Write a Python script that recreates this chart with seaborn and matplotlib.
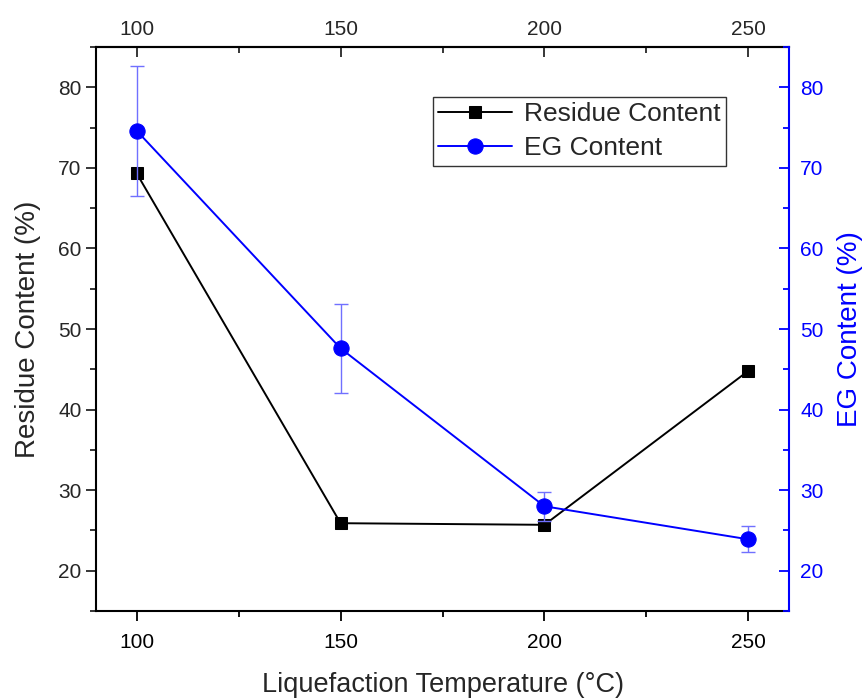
import matplotlib
matplotlib.use("Agg")
import matplotlib.pyplot as plt
import seaborn as sns
import pandas as pd
from matplotlib.ticker import MultipleLocator, FixedLocator

temperature = [100, 150, 200, 250]
residue = [69.3, 25.9, 25.7, 44.8]
eg = [74.6, 47.6, 28.0, 23.9]
eg_err = [8.1, 5.5, 1.8, 1.6]
x_major = [100, 150, 200, 250]
x_minor = [125, 175, 225]

sns.set_style("ticks")
plt.rcParams['font.family'] = ['Liberation Sans', 'DejaVu Sans']

df = pd.DataFrame({"T": temperature, "Residue": residue, "EG": eg, "err": eg_err})

fig = plt.figure(figsize=(8.63, 6.98), dpi=100)
ax = fig.add_axes([0.1112, 0.1246, 0.8031, 0.8081])
ax2 = ax.twinx()

ax2.errorbar(df["T"], df["EG"], yerr=df["err"], fmt='none', ecolor='#7070ff',
             elinewidth=1.0, capsize=5, capthick=1.0, zorder=1)
sns.lineplot(data=df, x="T", y="Residue", ax=ax, color='black', marker='s',
             markersize=8, markeredgecolor='black', linewidth=1.4,
             label='Residue Content', legend=False)
sns.lineplot(data=df, x="T", y="EG", ax=ax2, color='blue', marker='o',
             markersize=11, markeredgecolor='blue', linewidth=1.4,
             label='EG Content', legend=False)

for a in (ax, ax2):
    a.set_xlim(90, 260)
    a.set_ylim(15, 85)
    a.yaxis.set_major_locator(MultipleLocator(10))
    a.yaxis.set_minor_locator(MultipleLocator(5))
ax.xaxis.set_major_locator(FixedLocator(x_major))
ax.xaxis.set_minor_locator(FixedLocator(x_minor))

ax.set_xlabel("Liquefaction Temperature (\u00b0C)", fontsize=19.5, labelpad=14)
ax.set_ylabel("Residue Content (%)", fontsize=20, labelpad=12)
ax2.set_ylabel("EG Content (%)", fontsize=20, color='blue', labelpad=10)

ax.tick_params(axis='x', which='both', direction='out', labelsize=15, width=1.3,
               colors='black', pad=9)
ax.tick_params(axis='x', which='major', length=7)
ax.tick_params(axis='x', which='minor', length=4)
ax.tick_params(axis='y', which='both', direction='out', labelsize=15, width=1.3)
ax.tick_params(axis='y', which='major', length=7)
ax.tick_params(axis='y', which='minor', length=4)
ax2.tick_params(axis='y', which='both', direction='in', labelsize=15, width=1.3,
                colors='blue', pad=8)
ax2.tick_params(axis='y', which='major', length=7)
ax2.tick_params(axis='y', which='minor', length=4)
ax2.tick_params(axis='x', which='both', top=False, bottom=False,
                labeltop=False, labelbottom=False)

top = ax.secondary_xaxis('top')
top.xaxis.set_major_locator(FixedLocator(x_major))
top.xaxis.set_minor_locator(FixedLocator(x_minor))
top.tick_params(axis='x', which='both', direction='in', labelsize=15, width=1.3, pad=6)
top.tick_params(axis='x', which='major', length=7)
top.tick_params(axis='x', which='minor', length=4)
top.spines['top'].set_linewidth(1.5)

for s in ['left', 'bottom', 'top']:
    ax.spines[s].set_visible(True)
    ax.spines[s].set_linewidth(1.5)
    ax.spines[s].set_color('black')
ax.spines['right'].set_visible(False)
for s in ['left', 'bottom', 'top']:
    ax2.spines[s].set_visible(False)
ax2.spines['right'].set_visible(True)
ax2.spines['right'].set_color('blue')
ax2.spines['right'].set_linewidth(1.5)

h1, l1 = ax.get_legend_handles_labels()
h2, l2 = ax2.get_legend_handles_labels()
leg = ax2.legend(h1 + h2, l1 + l2, loc='upper left', bbox_to_anchor=(0.486, 0.912),
                 borderaxespad=0, fontsize=19, frameon=True, fancybox=False,
                 edgecolor='black', handlelength=2.8, borderpad=0.2,
                 labelspacing=0.4, handletextpad=0.45)
leg.get_frame().set_linewidth(1.0)

fig.savefig("out.png", dpi=100)
